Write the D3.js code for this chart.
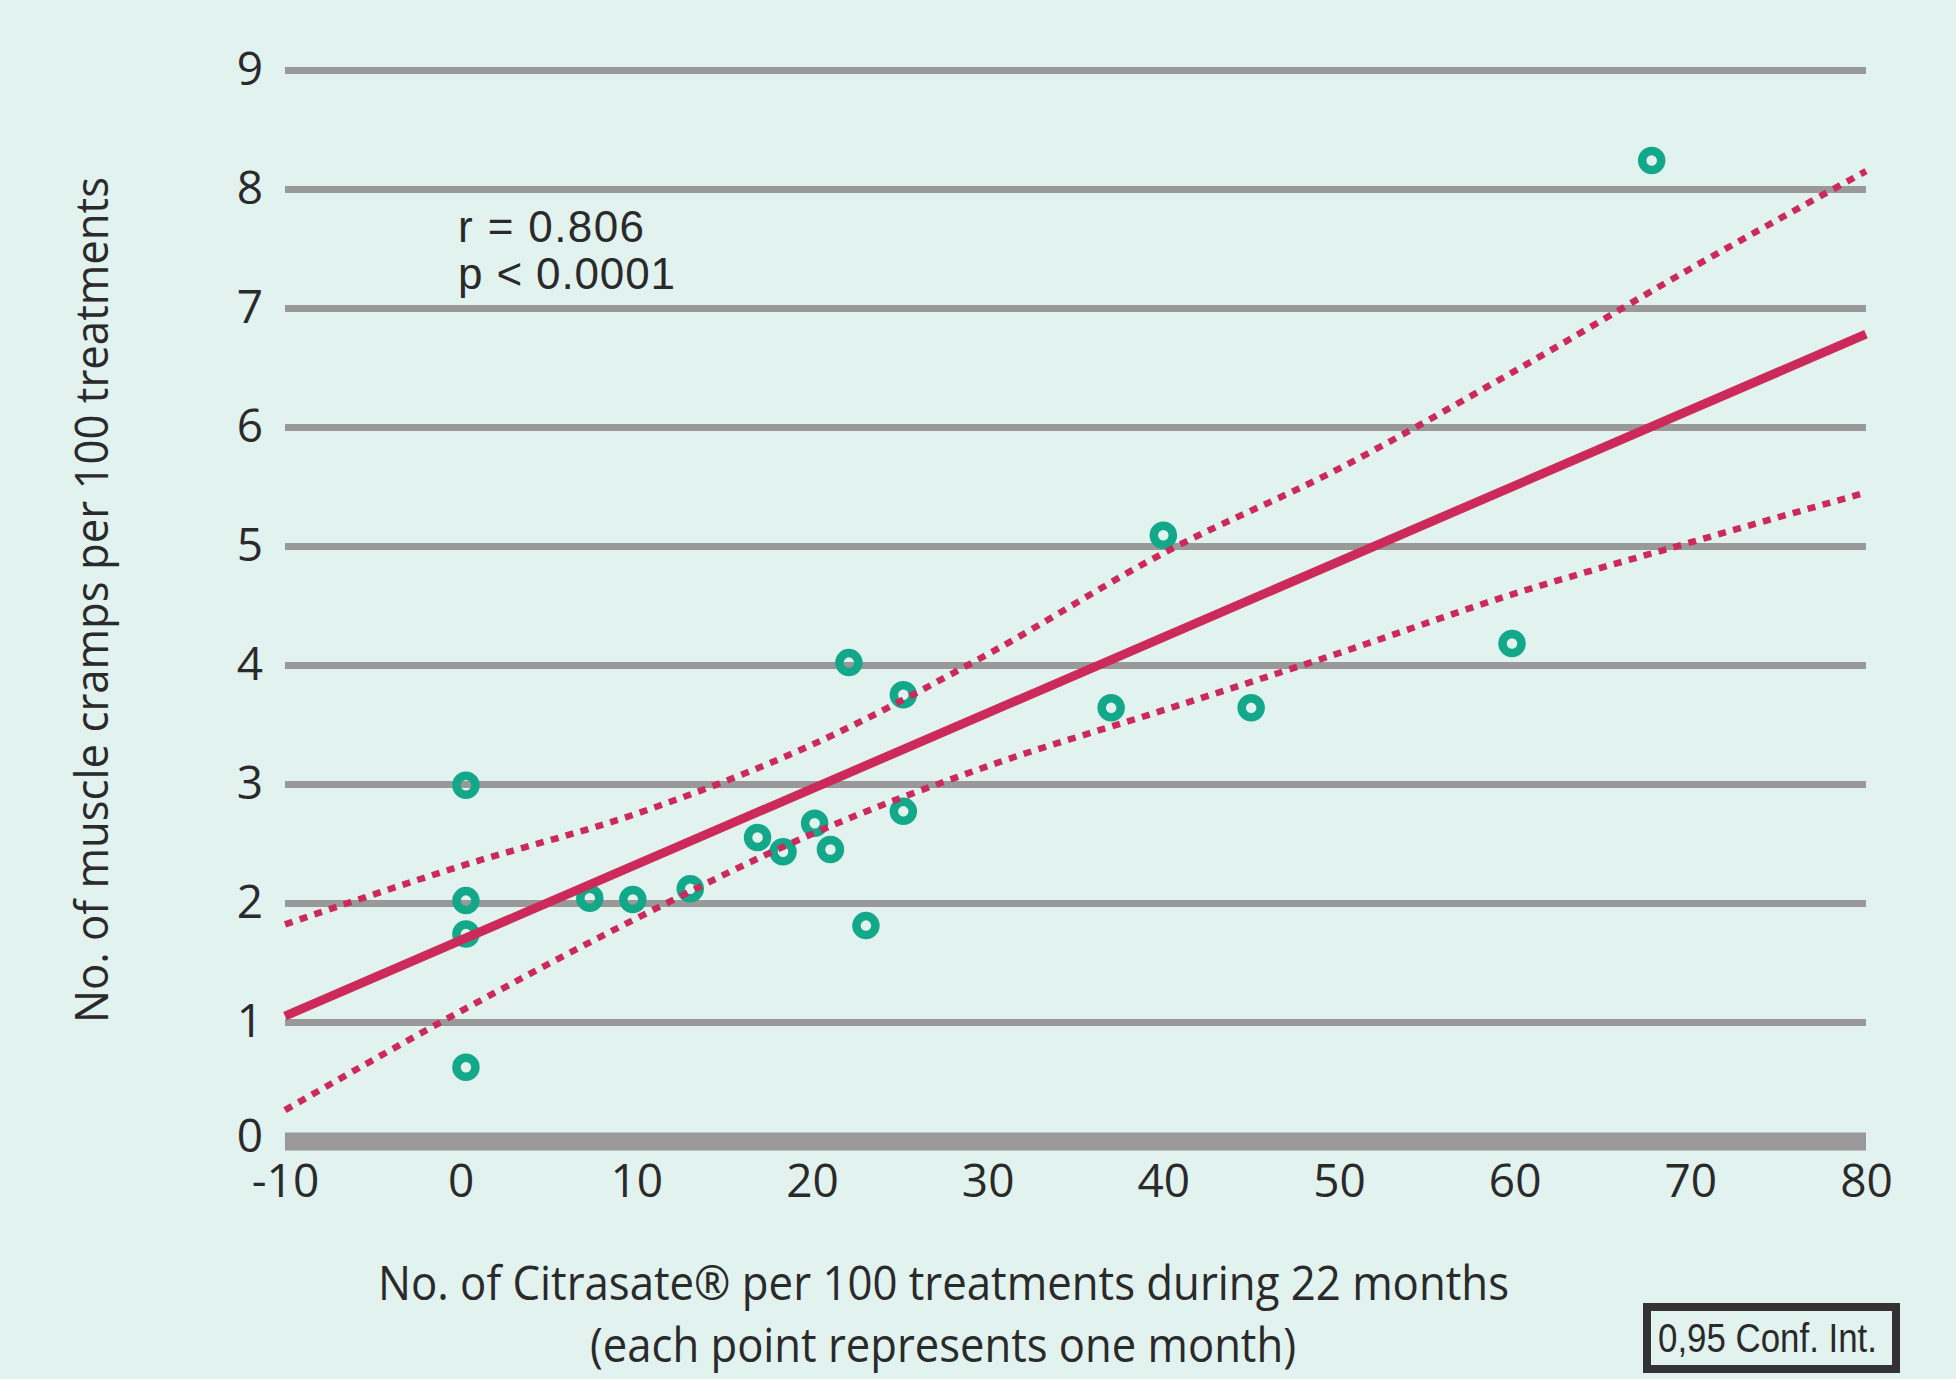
<!DOCTYPE html>
<html>
<head>
<meta charset="utf-8">
<script src="https://cdn.jsdelivr.net/npm/d3@7"></script>
<style>
  html, body { margin: 0; padding: 0; background: #e2f2ef; }
  svg { display: block; }
</style>
</head>
<body>
<script>
// ---------- data ----------
const citrasate = [0.3, 0.3, 0.3, 0.3, 7.35, 9.8, 13.07, 16.9, 18.35, 20.15, 21.05, 22.1, 23.07, 25.2, 25.2, 37.03, 40.0, 45.0, 59.85, 67.8];
const cramps    = [2.99, 2.02, 1.74, 0.62, 2.04, 2.03, 2.12, 2.55, 2.43, 2.67, 2.45, 4.02, 1.81, 3.75, 2.77, 3.64, 5.09, 3.64, 4.18, 8.24];

const fitX   = [-10, 80];
const fitY   = [1.05, 6.78];

const ciX     = [-10, 0, 10, 20, 30, 40, 50, 60, 70, 80];
const ciUpper = [1.82, 2.31, 2.75, 3.33, 4.09, 4.94, 5.65, 6.47, 7.33, 8.15];
const ciLower = [0.26, 1.09, 1.87, 2.58, 3.15, 3.62, 4.10, 4.60, 5.03, 5.45];

const xTicks = [-10, 0, 10, 20, 30, 40, 50, 60, 70, 80];
const xTickLabels = ["-10", "0", "10", "20", "30", "40", "50", "60", "70", "80"];
const yTicks = [0, 1, 2, 3, 4, 5, 6, 7, 8, 9];
const yTickLabels = ["0", "1", "2", "3", "4", "5", "6", "7", "8", "9"];

const statLines = ["r = 0.806", "p < 0.0001"];
const xTitle1 = "No. of Citrasate® per 100 treatments during 22 months";
const xTitle2 = "(each point represents one month)";
const yTitle = "No. of muscle cramps per 100 treatments";
const legendText = "0,95 Conf. Int.";

// ---------- layout ----------
const W = 1956, H = 1379;
const BG = "#e2f2ef", GRID = "#999999", RED = "#cc2a5a", TEAL = "#14a88a", TXT = "#2a2a2a";

const svg = d3.select("body").append("svg").attr("width", W).attr("height", H);
svg.append("rect").attr("width", W).attr("height", H).attr("fill", BG);

const x = d3.scaleLinear().domain([-10, 80]).range([285, 1866]);
const y = d3.scaleLinear().domain([0, 9]).range([1141, 70]);

// y axis with gridlines
const yAxis = d3.axisLeft(y)
  .tickValues(yTicks)
  .tickFormat((d, i) => yTickLabels[i])
  .tickSize(-(x.range()[1] - x.range()[0]))
  .tickPadding(22);
const gy = svg.append("g").attr("transform", `translate(${x.range()[0]},0)`).call(yAxis);
gy.select(".domain").remove();
gy.selectAll(".tick line")
  .attr("stroke", GRID)
  .attr("stroke-width", d => d === 0 ? 18 : 7);
gy.selectAll(".tick text")
  .attr("fill", TXT)
  .attr("dy", d => d === 0 ? "0.22em" : "0.32em")
  .style("font-family", "'Open Sans', sans-serif")
  .style("font-size", "46px");

// x axis
const xAxis = d3.axisBottom(x)
  .tickValues(xTicks)
  .tickFormat((d, i) => xTickLabels[i])
  .tickSize(0)
  .tickPadding(23);
const gx = svg.append("g").attr("transform", `translate(0,${y(0)})`).call(xAxis);
gx.select(".domain").remove();
gx.selectAll(".tick text")
  .attr("fill", TXT)
  .style("font-family", "'Open Sans', sans-serif")
  .style("font-size", "46px");

// points
const pts = citrasate.map((v, i) => [v, cramps[i]]);
svg.append("g").selectAll("circle").data(pts).join("circle")
  .attr("cx", d => x(d[0]))
  .attr("cy", d => y(d[1]))
  .attr("r", 9.5)
  .attr("fill", "none")
  .attr("stroke", TEAL)
  .attr("stroke-width", 8.5);

// confidence bands
const ciLine = d3.line().x(d => x(d[0])).y(d => y(d[1])).curve(d3.curveMonotoneX);
[ciUpper, ciLower].forEach(arr => {
  svg.append("path")
    .attr("d", ciLine(ciX.map((v, i) => [v, arr[i]])))
    .attr("fill", "none")
    .attr("stroke", RED)
    .attr("stroke-width", 6.5)
    .attr("stroke-dasharray", "8,7.5");
});

// regression line
svg.append("path")
  .attr("d", d3.line().x(d => x(d[0])).y(d => y(d[1]))(fitX.map((v, i) => [v, fitY[i]])))
  .attr("fill", "none")
  .attr("stroke", RED)
  .attr("stroke-width", 9);

// stats text
const statWidths = [186, 217];
svg.append("g").selectAll("text").data(statLines).join("text")
  .attr("x", 458)
  .attr("y", (d, i) => 242 + i * 47)
  .attr("fill", TXT)
  .attr("textLength", (d, i) => statWidths[i])
  .attr("lengthAdjust", "spacing")
  .style("font-family", "'Liberation Sans', Arial, sans-serif")
  .style("font-size", "44px")
  .text(d => d);

// x title
svg.append("text")
  .attr("x", 943.5).attr("y", 1300)
  .attr("text-anchor", "middle")
  .attr("fill", TXT)
  .style("font-family", "'Open Sans', sans-serif")
  .style("font-size", "47px")
  .attr("textLength", 1131)
  .attr("lengthAdjust", "spacingAndGlyphs")
  .text(xTitle1);

svg.append("text")
  .attr("x", 943).attr("y", 1362)
  .attr("text-anchor", "middle")
  .attr("fill", TXT)
  .style("font-family", "'Open Sans', sans-serif")
  .style("font-size", "47px")
  .attr("textLength", 706)
  .attr("lengthAdjust", "spacingAndGlyphs")
  .text(xTitle2);

// y title
svg.append("text")
  .attr("transform", "translate(108,600) rotate(-90)")
  .attr("text-anchor", "middle")
  .attr("fill", TXT)
  .style("font-family", "'Open Sans', sans-serif")
  .style("font-size", "45px")
  .attr("textLength", 846)
  .attr("lengthAdjust", "spacingAndGlyphs")
  .text(yTitle);

// legend box
svg.append("rect")
  .attr("x", 1647).attr("y", 1307)
  .attr("width", 249).attr("height", 62)
  .attr("fill", BG)
  .attr("stroke", "#333333")
  .attr("stroke-width", 8);
svg.append("text")
  .attr("x", 1658).attr("y", 1352)
  .attr("fill", TXT)
  .style("font-family", "'Liberation Sans Narrow', 'Liberation Sans', sans-serif")
  .style("font-size", "40px")
  .attr("textLength", 219)
  .attr("lengthAdjust", "spacingAndGlyphs")
  .text(legendText);
</script>
</body>
</html>
